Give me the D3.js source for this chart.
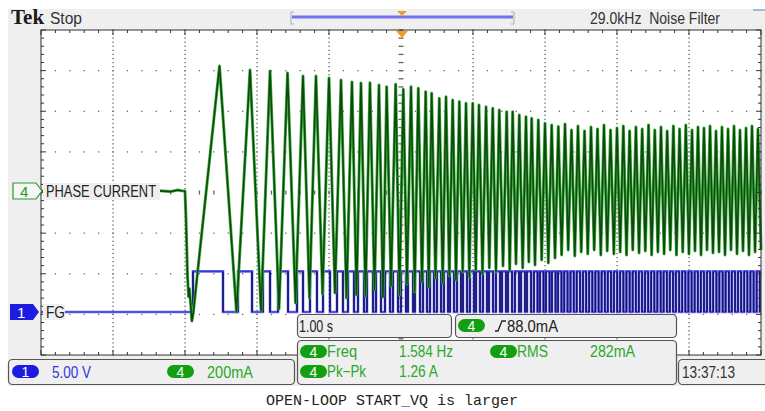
<!DOCTYPE html>
<html>
<head>
<meta charset="utf-8">
<script src="https://cdn.jsdelivr.net/npm/d3@7"></script>
<style>
  body { margin: 0; background: #fff; }
  svg { display: block; }
  text { font-family: "Liberation Sans", Arial, sans-serif; }
</style>
</head>
<body>
<svg id="scope" width="765" height="411"></svg>
<script>
// ---- data ----
// channel 4, phase current: [time s, current mA] at each corner of the trace
var phaseCurrent = [
  [-5.0, 0], [-4.4, 3], [-3.8, -4], [-3.4, 2], [-3.2, -3], [-3.1, 5], [-3.05, 1], [-3.0, 0],
  [-2.985, -150], [-2.965, -420], [-2.95, -520], [-2.94, -480], [-2.925, -540], [-2.905, -640], [-2.885, -600],
  [-2.521, 615], [-2.285, -596], [-2.097, 596], [-1.944, -591], [-1.819, 591], [-1.694, -581],
  [-1.576, 581], [-1.465, -551], [-1.361, 566], [-1.271, -527], [-1.181, 566], [-1.090, -507],
  [-1.000, 556], [-0.917, -502], [-0.833, 546], [-0.757, -527], [-0.681, 537], [-0.618, -512],
  [-0.556, 532], [-0.493, -517], [-0.431, 533], [-0.368, -487], [-0.306, 522], [-0.250, -522],
  [-0.199, 513], [-0.139, -468], [-0.074, 525], [-0.021, -512], [0.032, 501], [0.083, -458],
  [0.139, 513], [0.190, -497], [0.240, 506], [0.292, -448], [0.343, 489], [0.385, -473],
  [0.426, 481], [0.479, -428], [0.532, 456], [0.579, -453], [0.625, 464], [0.671, -418],
  [0.718, 448], [0.764, -438], [0.810, 440], [0.857, -399], [0.903, 432], [0.949, -423],
  [0.996, 432], [1.039, -389], [1.083, 423], [1.132, -409], [1.181, 415], [1.226, -379],
  [1.274, 407], [1.319, -399], [1.365, 399], [1.417, -369], [1.468, 390], [1.510, -389],
  [1.551, 390], [1.597, -359], [1.643, 374], [1.690, -379], [1.736, 366], [1.775, -350],
  [1.815, 358], [1.861, -364], [1.907, 350], [1.954, -340], [2.000, 333], [2.046, -354],
  [2.093, 325], [2.139, -330], [2.185, 317], [2.231, -315], [2.278, 330], [2.322, -290],
  [2.368, 300], [2.414, -320], [2.458, 320], [2.503, -300], [2.549, 295], [2.594, -310],
  [2.639, 315], [2.683, -290], [2.729, 305], [2.775, -315], [2.819, 325], [2.864, -295],
  [2.910, 300], [2.956, -310], [3.000, 310], [3.044, -300], [3.088, 320], [3.132, -315],
  [3.175, 295], [3.219, -290], [3.263, 315], [3.306, -305], [3.350, 305], [3.393, -295],
  [3.438, 325], [3.481, -315], [3.525, 300], [3.568, -300], [3.611, 315], [3.654, -310],
  [3.697, 295], [3.740, -290], [3.783, 320], [3.826, -315], [3.869, 305], [3.913, -300],
  [3.956, 325], [3.999, -310], [4.042, 300], [4.083, -295], [4.125, 315], [4.167, -315],
  [4.208, 310], [4.250, -290], [4.292, 320], [4.333, -305], [4.375, 295], [4.417, -300],
  [4.458, 315], [4.500, -315], [4.542, 305], [4.583, -290], [4.625, 320], [4.667, -310],
  [4.708, 300], [4.750, -295], [4.792, 310], [4.833, -315], [4.875, 320], [4.917, -300],
  [4.958, 305], [5.000, -290]
];

// channel 1, FG: switching times in s, first one goes high (0 V -> 5 V)
var fgLevels = [0, 5];
var fgEdges = [
  -2.889, -2.472, -2.264, -2.069, -1.917, -1.819, -1.708, -1.569, -1.444, -1.361,
  -1.264, -1.167, -1.083, -0.986, -0.889, -0.806, -0.736, -0.653, -0.597, -0.514,
  -0.472, -0.389, -0.347, -0.278, -0.222, -0.153, -0.111, -0.042, 0.000, 0.069,
  0.097, 0.167, 0.194, 0.264, 0.306, 0.361, 0.403, 0.458, 0.500, 0.556,
  0.597, 0.653, 0.681, 0.736, 0.778, 0.833, 0.861, 0.917, 0.958, 1.014,
  1.042, 1.097, 1.139, 1.194, 1.222, 1.278, 1.319, 1.375, 1.403, 1.458,
  1.486, 1.542, 1.583, 1.639, 1.667, 1.722, 1.750, 1.806, 1.847, 1.896,
  1.931, 1.979, 2.014, 2.063, 2.097, 2.146, 2.181, 2.229, 2.268, 2.313,
  2.354, 2.399, 2.440, 2.486, 2.528, 2.572, 2.614, 2.658, 2.700, 2.744,
  2.786, 2.831, 2.872, 2.917, 2.958, 3.003, 3.044, 3.089, 3.131, 3.175,
  3.217, 3.261, 3.303, 3.347, 3.389, 3.433, 3.475, 3.519, 3.561, 3.606,
  3.647, 3.692, 3.733, 3.778, 3.819, 3.864, 3.906, 3.950, 3.992, 4.036,
  4.078, 4.122, 4.164, 4.208, 4.250, 4.294, 4.336, 4.381, 4.422, 4.467,
  4.508, 4.553, 4.594, 4.639, 4.681, 4.725, 4.767, 4.811, 4.853, 4.897,
  4.939, 4.983
];

// readouts on the screen
var header = { brand: "Tek", state: "Stop", filter: "29.0kHz  Noise Filter" };
var chanLabels = [
  { ch: "4", name: "PHASE CURRENT" },
  { ch: "1", name: "FG" }
];
var scaleReadouts = [
  { ch: "1", value: "5.00 V" },
  { ch: "4", value: "200mA" }
];
var timebase = "1.00 s";
var trigger = { ch: "4", level: "88.0mA" };
var measurements = [
  { ch: "4", name: "Freq", value: "1.584 Hz" },
  { ch: "4", name: "RMS", value: "282mA" },
  { ch: "4", name: "Pk\u2212Pk", value: "1.26 A" }
];
var clock = "13:37:13";
var caption = "OPEN-LOOP START_VQ is larger";

// ---- layout ----
var W = 765, H = 411;
var gx0 = 41, gx1 = 761, gy0 = 30, gy1 = 355;
var divX = (gx1 - gx0) / 10, divY = (gy1 - gy0) / 8;
var green = "#1a9a1a", greenPill = "#12a012", greenText = "#2aa82a";
var blue = "#1c1ce0", blueText = "#3535dd";

var svg = d3.select("#scope");

var x = d3.scaleLinear().domain([-5, 5]).range([gx0, gx1]);
var y4 = d3.scaleLinear().domain([0, 200]).range([191, 191 - divY]);   // 200 mA/div
var y1 = d3.scaleLinear().domain([0, 5]).range([312, 312 - divY]);     // 5 V/div

// condensed scope font: squeeze text to the width it has on screen
function txt(g, x0, y0, s, w, size, col) {
  var t = g.append("text").attr("x", x0).attr("y", y0).text(s)
    .style("font-size", size + "px").attr("fill", col);
  if (w) t.attr("textLength", w).attr("lengthAdjust", "spacingAndGlyphs");
  return t;
}

// frame
svg.append("rect").attr("x", 8).attr("y", 9).attr("width", W - 8).attr("height", 377).attr("fill", "#efefef");
svg.append("rect").attr("x", gx0).attr("y", gy0).attr("width", gx1 - gx0).attr("height", gy1 - gy0).attr("fill", "#fff");

// graticule dots
var grid = svg.append("g").attr("fill", "#666");
var minorX = d3.range(0, 51).map(function(i) { return gx0 + i * divX / 5; });
var minorY = d3.range(0, 41).map(function(i) { return gy0 + i * divY / 5; });
d3.range(1, 8).forEach(function(r) {
  if (r === 4) return;
  var yy = gy0 + r * divY;
  minorX.forEach(function(xx) {
    grid.append("rect").attr("x", xx - 0.6).attr("y", yy - 0.6).attr("width", 1.3).attr("height", 1.3);
  });
});
d3.range(1, 10).forEach(function(c) {
  if (c === 5) return;
  var xx = gx0 + c * divX;
  d3.range(0, 81).forEach(function(i) {
    var yy = gy0 + i * divY / 10;
    grid.append("rect").attr("x", xx - 0.6).attr("y", yy - 0.6).attr("width", 1.3).attr("height", 1.3);
  });
});
// centre cross with ticks
var cx = gx0 + 5 * divX, cy = gy0 + 4 * divY;
minorX.forEach(function(xx) {
  grid.append("rect").attr("x", xx - 0.6).attr("y", cy - 2).attr("width", 1.3).attr("height", 4);
});
minorY.forEach(function(yy) {
  grid.append("rect").attr("x", cx - 2.5).attr("y", yy - 0.6).attr("width", 5).attr("height", 1.3);
});

// traces
var fgPoints = [[-5, fgLevels[0]]];
fgEdges.forEach(function(t, i) { fgPoints.push([t, fgLevels[(i + 1) % 2]]); });
fgPoints.push([5, fgLevels[fgEdges.length % 2]]);

var fgLine = d3.line().curve(d3.curveStepAfter).x(function(d) { return x(d[0]); }).y(function(d) { return y1(d[1]); });
var phLine = d3.line().x(function(d) { return x(d[0]); }).y(function(d) { return y4(d[1]); });

// FG: light blue levels, darker switching edges
svg.append("path").attr("d", fgLine(fgPoints)).attr("fill", "none").attr("stroke", "#6666f2").attr("stroke-width", 2.6);
svg.append("path").attr("d", fgLine(fgPoints)).attr("fill", "none").attr("stroke", "#3a3ad0").attr("stroke-width", 1.2);
svg.append("g").selectAll("line").data(fgEdges).enter().append("line")
  .attr("x1", function(d) { return x(d); }).attr("x2", function(d) { return x(d); })
  .attr("y1", y1(fgLevels[0])).attr("y2", y1(fgLevels[1]))
  .attr("stroke", "#15156e").attr("stroke-width", 1.6);
svg.append("path").attr("d", phLine(phaseCurrent)).attr("fill", "none").attr("stroke", "#3fb03f").attr("stroke-width", 3).attr("stroke-linejoin", "round");
svg.append("path").attr("d", phLine(phaseCurrent)).attr("fill", "none").attr("stroke", "#0e4a0e").attr("stroke-width", 1.6).attr("stroke-linejoin", "round");

// border + edge ticks
var edge = svg.append("g").attr("stroke", "#333").attr("stroke-width", 1);
edge.append("rect").attr("x", gx0).attr("y", gy0).attr("width", gx1 - gx0).attr("height", gy1 - gy0).attr("fill", "none");
minorX.forEach(function(xx, i) {
  var l = (i % 5 === 0) ? 5 : 3;
  edge.append("line").attr("x1", xx).attr("x2", xx).attr("y1", gy0).attr("y2", gy0 + l);
  edge.append("line").attr("x1", xx).attr("x2", xx).attr("y1", gy1).attr("y2", gy1 - l);
});
minorY.forEach(function(yy, i) {
  var l = (i % 5 === 0) ? 5 : 3;
  edge.append("line").attr("x1", gx0).attr("x2", gx0 + l).attr("y1", yy).attr("y2", yy);
  edge.append("line").attr("x1", gx1).attr("x2", gx1 - l).attr("y1", yy).attr("y2", yy);
});

// top bar
svg.append("text").attr("x", 11).attr("y", 24).text(header.brand)
  .style("font-family", "'Liberation Serif', 'DejaVu Serif', serif").style("font-weight", "bold").style("font-size", "21px").attr("fill", "#1a1a1a");
txt(svg, 50, 24, header.state, 32, 16, "#333");
txt(svg, 590, 24, header.filter, 130, 16, "#333").style("white-space", "pre");
svg.append("line").attr("x1", 753).attr("x2", 765).attr("y1", 10).attr("y2", 10).attr("stroke", "#7fb0d0").attr("stroke-width", 1.5);

// record-length bar with trigger position
var bar = svg.append("g");
bar.append("line").attr("x1", 292).attr("x2", 513).attr("y1", 17).attr("y2", 17).attr("stroke", "#7272ee").attr("stroke-width", 3);
[[291, 1], [514, -1]].forEach(function(b) {
  bar.append("path").attr("d", "M" + (b[0] + 3 * b[1]) + ",12 H" + b[0] + " V24 H" + (b[0] + 3 * b[1]))
    .attr("fill", "none").attr("stroke", "#aaa").attr("stroke-width", 1);
});
bar.append("path").attr("d", "M397,11 L407,11 L402,16 Z").attr("fill", "#f0a020");
svg.append("path").attr("d", "M396,31 L408,31 L402,38 Z").attr("fill", "#f0a020");

// channel markers on the left
var m4 = svg.append("g");
m4.append("rect").attr("x", 43).attr("y", 183).attr("width", 117).attr("height", 17).attr("fill", "#efefef");
m4.append("path").attr("d", "M13,183 H36 L42,191 L36,199 H13 Z").attr("fill", "#f6f6f6").attr("stroke", "#2a9a2a").attr("stroke-width", 1.2);
txt(m4, 20, 197, chanLabels[0].ch, 0, 15, green);
txt(m4, 46, 197, chanLabels[0].name, 110, 16, "#222");

var m1 = svg.append("g");
m1.append("rect").attr("x", 43).attr("y", 304).attr("width", 22).attr("height", 16).attr("fill", "#efefef");
m1.append("path").attr("d", "M10,304 H33 L39,312 L33,320 H10 Z").attr("fill", blue);
txt(m1, 17, 318, chanLabels[1].ch, 0, 15, "#fff");
txt(m1, 46, 318, chanLabels[1].name, 19, 16, "#222");

// readout boxes
function box(x0, y0, w, h) {
  svg.append("rect").attr("x", x0).attr("y", y0).attr("width", w).attr("height", h).attr("rx", 4)
    .attr("fill", "#efefef").attr("stroke", "#555").attr("stroke-width", 1.2);
}
function pill(x0, y0, ch, col) {
  svg.append("rect").attr("x", x0).attr("y", y0).attr("width", 27).attr("height", 13).attr("rx", 6.5).attr("fill", col);
  svg.append("text").attr("x", x0 + 13.5).attr("y", y0 + 11.5).attr("text-anchor", "middle").text(ch)
    .style("font-size", "14px").attr("fill", "#fff");
}

box(8.5, 359.5, 286, 25);
pill(12, 365, scaleReadouts[0].ch, blue);
txt(svg, 52, 378, scaleReadouts[0].value, 39, 16, blueText);
pill(167, 365, scaleReadouts[1].ch, greenPill);
txt(svg, 207, 378, scaleReadouts[1].value, 46, 16, greenText);

box(297.5, 314.5, 154, 23);
txt(svg, 299, 332, timebase, 34, 16, "#222");
box(455.5, 314.5, 221, 23);
pill(458, 319, trigger.ch, greenPill);
svg.append("path").attr("d", "M495,331 H498 L502,321 H506").attr("fill", "none").attr("stroke", "#222").attr("stroke-width", 1.3);
txt(svg, 507, 332, trigger.level, 51, 16, "#222");

box(297.5, 340.5, 379, 44);
pill(300, 345, measurements[0].ch, greenPill);
txt(svg, 327, 357, measurements[0].name, 30, 16, greenText);
txt(svg, 399, 357, measurements[0].value, 54, 16, greenText);
pill(490, 345, measurements[1].ch, greenPill);
txt(svg, 517, 357, measurements[1].name, 31, 16, greenText);
txt(svg, 590, 357, measurements[1].value, 45, 16, greenText);
pill(300, 365, measurements[2].ch, greenPill);
txt(svg, 327, 377, measurements[2].name, 39, 16, greenText);
txt(svg, 399, 377, measurements[2].value, 39, 16, greenText);

box(678.5, 359.5, 90, 25);
txt(svg, 682, 378, clock, 53, 16, "#333");

// caption under the screenshot
svg.append("text").attr("x", 392).attr("y", 405).attr("text-anchor", "middle").text(caption)
  .style("font-family", "'Courier New', 'Liberation Mono', monospace").style("font-size", "15px").attr("fill", "#222");
</script>
</body>
</html>
